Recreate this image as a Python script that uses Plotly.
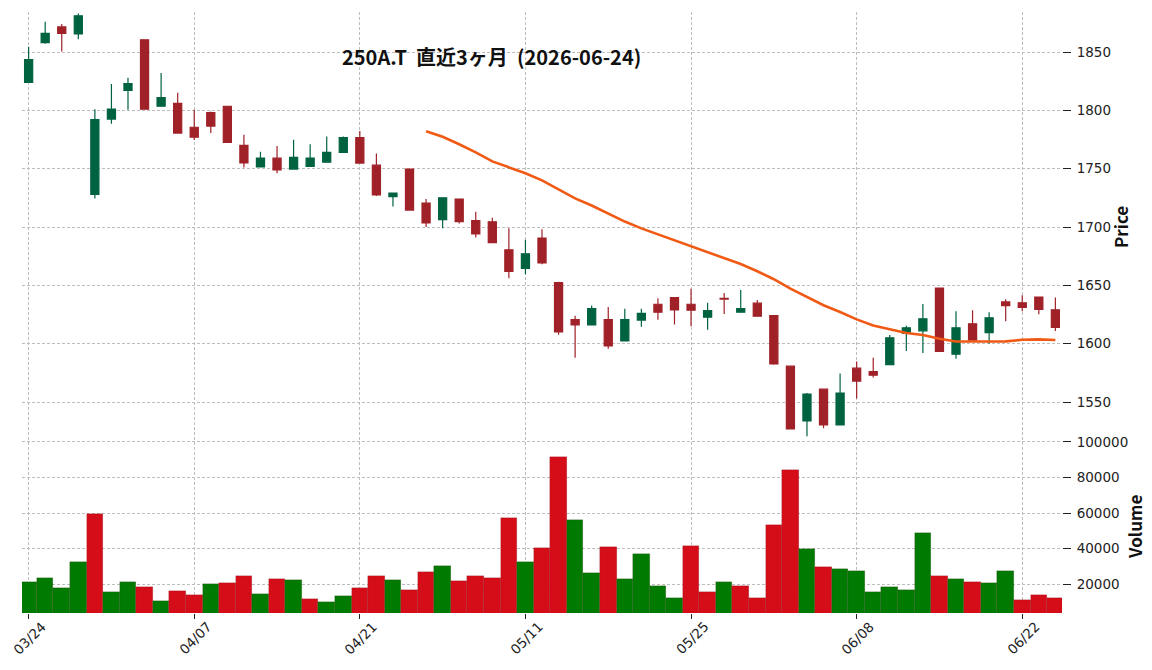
import pandas as pd
import plotly.graph_objects as go

# ---- data -------------------------------------------------------------
holidays = ["2026-04-29", "2026-05-04", "2026-05-05", "2026-05-06"]
days = [d for d in pd.bdate_range("2026-03-24", "2026-06-24")
        if d.strftime("%Y-%m-%d") not in holidays]
dates = [d.strftime("%m/%d") for d in days]

opens = [1824, 1858, 1871.5, 1865.5, 1728, 1792.5, 1817, 1860.5, 1803.5, 1806,
         1785.5, 1798, 1803.5, 1770, 1751.5, 1759, 1749.7, 1752, 1755.5, 1764,
         1776.7, 1753, 1726, 1749.7, 1720.5, 1706.3, 1724, 1705.5, 1704.5, 1680.5,
         1664.5, 1690.5, 1652.3, 1620.7, 1616, 1620.7, 1602.3, 1620.2, 1633.8, 1639.5,
         1633.8, 1622.7, 1638.8, 1627, 1634.7, 1624, 1580.7, 1533.8, 1561, 1530.4,
         1579, 1576, 1582, 1609, 1611, 1647.7, 1591, 1617, 1609.4, 1635.8,
         1635, 1640, 1629]
highs = [1854.5, 1876, 1874, 1883, 1801, 1822.5, 1828, 1861, 1832, 1815,
         1800.5, 1799, 1804, 1779, 1764.5, 1769.5, 1774.7, 1771, 1777.5, 1777.6,
         1782.4, 1763, 1729.5, 1750, 1724, 1725.5, 1724.5, 1713, 1708, 1699,
         1689, 1698, 1653, 1624, 1632.7, 1631.5, 1630, 1630, 1639, 1640,
         1647, 1635, 1643.5, 1646, 1637.5, 1624.5, 1581, 1557.7, 1561.5, 1574.4,
         1584.7, 1588, 1607.4, 1615.3, 1634, 1648, 1627.8, 1628.7, 1627, 1638,
         1641.5, 1640.5, 1639.5]
lows = [1824, 1857, 1850.5, 1861, 1724.5, 1788.5, 1800.5, 1800.5, 1803, 1780,
        1774.5, 1780.5, 1772, 1751, 1751, 1746, 1749.5, 1751.5, 1755, 1763.5,
        1754.5, 1726.5, 1717.5, 1714, 1700, 1699, 1703, 1691, 1686, 1656,
        1659.5, 1668, 1607.7, 1588, 1615.5, 1595.7, 1602, 1614.5, 1620.5, 1616.5,
        1615, 1612, 1625.5, 1627, 1623, 1582, 1526.4, 1520.7, 1527.6, 1530,
        1553, 1571, 1582, 1593.8, 1592, 1593, 1587, 1602.5, 1600, 1619.3,
        1627.8, 1625.3, 1610.8]
closes = [1843.5, 1866, 1866, 1881, 1792, 1801, 1823, 1801, 1811, 1780.5,
          1777, 1786.5, 1772.5, 1755, 1759, 1749, 1759.7, 1759, 1764, 1776.7,
          1754.8, 1727.5, 1729, 1714.5, 1703.5, 1725, 1704.5, 1694, 1686.5, 1662,
          1677, 1669.3, 1610, 1616, 1630, 1598, 1620.7, 1626, 1627, 1629,
          1628.7, 1628.4, 1638.2, 1630, 1623.6, 1582.7, 1527, 1556.8, 1530.4, 1557.7,
          1568, 1573, 1605, 1613.6, 1621.3, 1593.5, 1613.6, 1603, 1622.2, 1632.7,
          1631, 1629.3, 1614]
volumes = [21300, 23600, 17900, 32600, 59700, 15700, 21300, 18500, 10600, 16200,
           14000, 20200, 20800, 24700, 14500, 23000, 22400, 11700, 10000, 13400,
           17900, 24700, 22400, 16800, 27000, 30400, 21900, 24700, 23600, 56900,
           32600, 40500, 91300, 55800, 26400, 41100, 23000, 37100, 19200, 12300,
           41600, 15700, 21300, 19200, 12300, 53500, 84000, 40000, 29800, 28700,
           27500, 15700, 18500, 16800, 49000, 24700, 23000, 21300, 20800, 27500,
           11200, 14000, 12300]
tick_labels = ["03/24", "04/07", "04/21", "05/11", "05/25", "06/08", "06/22"]
price_ticks = [1550, 1600, 1650, 1700, 1750, 1800, 1850]
volume_ticks = [20000, 40000, 60000, 80000, 100000]
ma_window = 25

# ---- derived ----------------------------------------------------------
ma = pd.Series(closes).rolling(ma_window).mean()
vol_colors = ["#007a00"] + [
    "#007a00" if closes[i] >= closes[i - 1] else "#d50d18" for i in range(1, len(closes))
]

UP, DOWN = "#006340", "#a02128"
GRID = "#bdbdbd"
GDASH = "3px,2px"

fig = go.Figure()
fig.add_trace(go.Bar(
    x=dates, y=volumes, width=1.0, base=0,
    marker=dict(color=vol_colors, line=dict(color="rgba(60,0,0,0.3)", width=0.5)),
    xaxis="x", yaxis="y2", showlegend=False, hoverinfo="skip"))
fig.add_trace(go.Candlestick(
    x=dates, open=opens, high=highs, low=lows, close=closes,
    increasing=dict(line=dict(color=UP, width=1.2), fillcolor=UP),
    decreasing=dict(line=dict(color=DOWN, width=1.2), fillcolor=DOWN),
    whiskerwidth=0, xaxis="x2", yaxis="y", showlegend=False))
fig.add_trace(go.Scatter(
    x=dates, y=ma, mode="lines", line=dict(color="#f05a14", width=2.6),
    xaxis="x2", yaxis="y", showlegend=False, hoverinfo="skip"))

tickfont = dict(family="DejaVu Sans", size=13.5, color="#222")
split = 0.2928
common_x = dict(type="category", categoryorder="array", categoryarray=dates,
                range=[-0.4, 62.4], tickmode="array", tickvals=tick_labels,
                showgrid=True, gridcolor=GRID, griddash=GDASH, gridwidth=0.7,
                zeroline=False, showline=False, automargin=False)
ytitle_font = dict(family="Noto Sans CJK JP", size=17, color="#111")

annotations = [
    dict(text="<b>250A.T  直近3ヶ月  (2026-06-24)</b>", xref="paper", yref="paper",
         x=(491 - 22) / 1040, y=1 - (56 - 12) / 601, xanchor="center",
         yanchor="middle", showarrow=False,
         font=dict(family="Noto Sans CJK JP", size=20, color="#111")),
    dict(text="<b>Price</b>", xref="paper", yref="paper",
         x=(1120 - 22) / 1040, y=1 - (227 - 12) / 601, xanchor="center",
         yanchor="middle", textangle=-90, showarrow=False, font=ytitle_font),
    dict(text="<b>Volume</b>", xref="paper", yref="paper",
         x=(1134 - 22) / 1040, y=1 - (527 - 12) / 601, xanchor="center",
         yanchor="middle", textangle=-90, showarrow=False, font=ytitle_font),
]
for lab in tick_labels:
    annotations.append(dict(text=lab, x=lab, xref="x", y=0, yref="y2 domain",
                            yshift=-25, xshift=1, showarrow=False, textangle=-45,
                            xanchor="center", yanchor="middle", font=tickfont))

fig.update_layout(
    width=1152, height=670,
    margin=dict(l=22, r=90, t=12, b=57, autoexpand=False),
    paper_bgcolor="white", plot_bgcolor="white",
    xaxis=dict(**common_x, anchor="y2", domain=[0, 1], showticklabels=False,
               ticks="outside", ticklen=5, tickcolor="#222"),
    xaxis2=dict(**common_x, anchor="y", domain=[0, 1], matches="x",
                showticklabels=False, rangeslider=dict(visible=False)),
    yaxis=dict(domain=[split, 1], range=[1520.0, 1884.3], side="right",
               tickvals=price_ticks, ticks="outside", ticklen=8, tickcolor="#222",
               ticklabelstandoff=3,
               tickfont=tickfont, showgrid=True, gridcolor=GRID, griddash=GDASH,
               gridwidth=0.7, zeroline=False, showline=False, automargin=False),
    yaxis2=dict(domain=[0, split], range=[3800, 102700], side="right",
                tickvals=volume_ticks, tickformat="d", ticks="outside", ticklen=8,
                ticklabelstandoff=3,
                tickcolor="#222", tickfont=tickfont, showgrid=True, gridcolor=GRID,
                griddash=GDASH, gridwidth=0.7, zeroline=False, showline=False,
                automargin=False),
    bargap=0,
    annotations=annotations,
)
fig.write_html("out.html")
